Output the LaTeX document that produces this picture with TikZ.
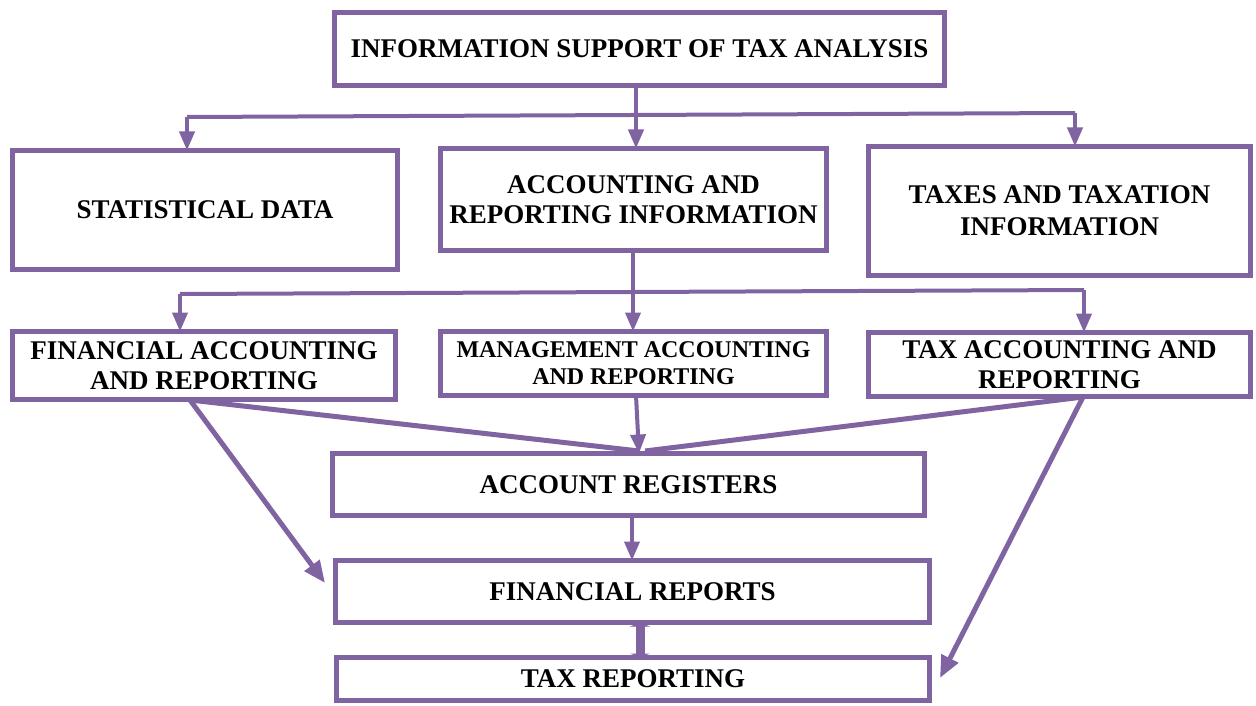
\documentclass[tikz,border=0pt]{standalone}
\usepackage{fontspec}
\setmainfont{Liberation Serif}
\usetikzlibrary{arrows.meta}
\definecolor{pur}{HTML}{8064A2}
\begin{document}
\begin{tikzpicture}[x=1pt,y=-1pt,
 box/.style={draw=pur, line width=5.5pt, inner sep=0pt, outer sep=0pt, align=center, font=\fontsize{27}{30}\selectfont\bfseries},
 conn/.style={draw=pur, line width=4pt},
 thick5/.style={draw=pur, line width=5pt},
 arr/.style={conn, -{Triangle[length=19pt,width=15pt]}}]
\useasboundingbox (0,0) rectangle (1256,706);
% boxes
\node[box, minimum width=610, minimum height=73] (top) at (639.5,49) {INFORMATION SUPPORT OF TAX ANALYSIS};
\node[box, minimum width=385, minimum height=119] (stat) at (205,210) {STATISTICAL DATA};
\node[box, minimum width=386, minimum height=102] (acc) at (633.5,199.5) {ACCOUNTING AND\\REPORTING INFORMATION};
\node[box, minimum width=382, minimum height=129, font=\fontsize{27}{32}\selectfont\bfseries] (taxes) at (1059.5,211) {TAXES AND TAXATION\\INFORMATION};
\node[box, minimum width=383, minimum height=68] (fin) at (204,365.5) {FINANCIAL ACCOUNTING\\AND REPORTING};
\node[box, minimum width=386, minimum height=64, font=\fontsize{24}{27}\selectfont\bfseries] (mgmt) at (633.5,363.5) {MANAGEMENT ACCOUNTING\\AND REPORTING};
\node[box, minimum width=382, minimum height=64] (taxacc) at (1059.5,364.5) {TAX ACCOUNTING AND\\REPORTING};
\node[box, minimum width=592, minimum height=62] (reg) at (628.5,484.5) {ACCOUNT REGISTERS};
\node[box, minimum width=594, minimum height=62] (frep) at (632.5,591.5) {FINANCIAL REPORTS};
\node[box, minimum width=593, minimum height=43] (trep) at (633,679) {TAX REPORTING};
% first tier connectors
\coordinate (j1) at (636,115);
\coordinate (l1) at (187,117);
\coordinate (r1) at (1075,113);
\draw[conn] (top.south -| j1) -- (j1);
\draw[conn] (l1) -- (r1);
\draw[arr] (j1) -- (acc.north -| j1);
\draw[arr] (l1) -- (stat.north -| l1);
\draw[arr] (r1) -- (taxes.north -| r1);
% second tier connectors
\coordinate (j2) at (633,292);
\coordinate (l2) at (180,294);
\coordinate (r2) at (1084,290);
\draw[conn] (acc.south -| j2) -- (j2);
\draw[conn] (l2) -- (r2);
\draw[arr] (j2) -- (mgmt.north -| j2);
\draw[arr] (l2) -- (fin.north -| l2);
\draw[arr] (r2) -- (taxacc.north -| r2);
% third tier
\coordinate (fa) at (190,400);
\coordinate (ta) at (1083,397);
\coordinate (m1) at (636,396);
\coordinate (rt1) at (639,451);
\coordinate (rt2) at (645,451);
\draw[thick5] (fa) -- (rt1);
\draw[thick5] (ta) -- (rt2);
\draw[arr] (mgmt.south -| m1) -- (reg.north -| rt1);
\coordinate (fd) at (325,583);
\coordinate (td) at (940,678);
\draw[thick5, -{Triangle[length=22pt,width=18pt]}] (fa) -- (fd);
\draw[thick5, -{Triangle[length=22pt,width=18pt]}] (ta) -- (td);
% registers to financial reports
\coordinate (c1) at (632,0);
\draw[arr] (reg.south -| c1) -- (frep.north -| c1);
% financial reports to tax reporting
\coordinate (c2) at (640,0);
\draw[draw=pur, line width=9pt, {Triangle[length=4pt,width=20pt]}-{Triangle[length=4pt,width=20pt]}] (frep.south -| c2) -- (trep.north -| c2);
\end{tikzpicture}
\end{document}
